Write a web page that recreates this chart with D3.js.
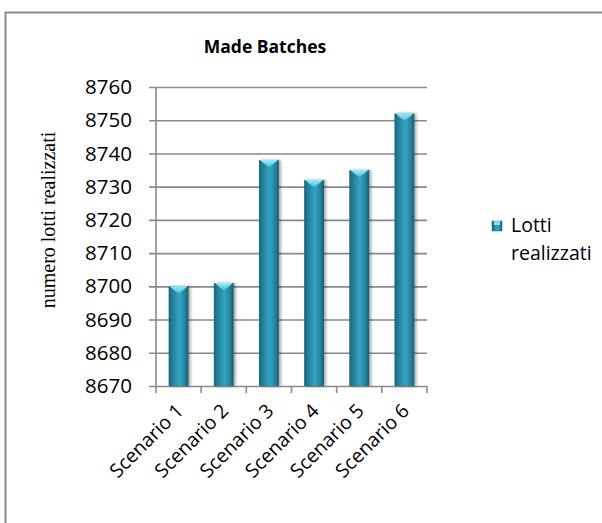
<!DOCTYPE html>
<html>
<head>
<meta charset="utf-8">
<script src="https://cdn.jsdelivr.net/npm/d3@7"></script>
<style>
  html, body { margin: 0; padding: 0; background: #fff; }
  svg { display: block; }
</style>
</head>
<body>
<svg id="chart" width="602" height="523"></svg>
<script>
// Made batches per scenario
const categories = ["Scenario 1", "Scenario 2", "Scenario 3", "Scenario 4", "Scenario 5", "Scenario 6"];
const lotti = [8700, 8701, 8738, 8732, 8735, 8752];
const yTicks = [8670, 8680, 8690, 8700, 8710, 8720, 8730, 8740, 8750, 8760];
const seriesName = ["Lotti", "realizzati"];
const chartTitle = "Made Batches";
const yTitle = "numero lotti realizzati";

const svg = d3.select("#chart");
const labelFont = "'Open Sans', 'Noto Sans', sans-serif";

// chart frame (extends past the right and bottom edges)
svg.append("rect")
  .attr("x", 5.5).attr("y", 12.5)
  .attr("width", 700).attr("height", 600)
  .attr("fill", "#fff")
  .attr("stroke", "#8c8c8c").attr("stroke-width", 2);

const plot = { left: 156, right: 427, top: 87, bottom: 386 };

const x = d3.scaleBand()
  .domain(categories)
  .range([plot.left, plot.right])
  .paddingInner(0.56).paddingOuter(0.28);

const y = d3.scaleLinear()
  .domain([8670, 8760])
  .range([plot.bottom, plot.top]);

// gradient for the cylinder-like bars
const defs = svg.append("defs");
const grad = defs.append("linearGradient").attr("id", "barGrad")
  .attr("x1", "0%").attr("x2", "100%").attr("y1", "0%").attr("y2", "0%");
grad.append("stop").attr("offset", "0%").attr("stop-color", "#1b6579");
grad.append("stop").attr("offset", "30%").attr("stop-color", "#2a8ca8");
grad.append("stop").attr("offset", "55%").attr("stop-color", "#34a3c2");
grad.append("stop").attr("offset", "80%").attr("stop-color", "#2586a1");
grad.append("stop").attr("offset", "100%").attr("stop-color", "#185d70");

const capGrad = defs.append("linearGradient").attr("id", "capGrad")
  .attr("x1", "0%").attr("x2", "0%").attr("y1", "0%").attr("y2", "100%");
capGrad.append("stop").attr("offset", "0%").attr("stop-color", "#9ceaf8");
capGrad.append("stop").attr("offset", "100%").attr("stop-color", "#48c3df");

const shadow = defs.append("filter").attr("id", "shadow")
  .attr("x", "-30%").attr("y", "-10%").attr("width", "160%").attr("height", "120%");
shadow.append("feGaussianBlur").attr("in", "SourceAlpha").attr("stdDeviation", 1.6);
shadow.append("feOffset").attr("dx", 1.5).attr("dy", 0).attr("result", "b");
shadow.append("feComponentTransfer").append("feFuncA").attr("type", "linear").attr("slope", 0.35);
const merge = shadow.append("feMerge");
merge.append("feMergeNode");
merge.append("feMergeNode").attr("in", "SourceGraphic");

// horizontal gridlines and value labels
const yAxis = d3.axisLeft(y).tickValues(yTicks).tickSize(plot.right - plot.left + 7).tickPadding(17)
  .tickFormat(d3.format("d"));
const gy = svg.append("g")
  .attr("transform", `translate(${plot.right},0)`)
  .call(yAxis);
gy.select(".domain").remove();
gy.selectAll(".tick line").attr("stroke", "#8a8a8a").attr("stroke-width", 1.6);
gy.selectAll(".tick text")
  .attr("font-family", labelFont).attr("font-size", 20.5).attr("fill", "#000");

// vertical axis line
svg.append("line")
  .attr("x1", plot.left).attr("x2", plot.left)
  .attr("y1", plot.top).attr("y2", plot.bottom)
  .attr("stroke", "#8a8a8a").attr("stroke-width", 1.6);

// category tick marks at band boundaries
const boundaries = d3.range(categories.length + 1).map(i => plot.left + i * (plot.right - plot.left) / categories.length);
svg.append("g").selectAll("line").data(boundaries).join("line")
  .attr("x1", d => d).attr("x2", d => d)
  .attr("y1", plot.bottom).attr("y2", plot.bottom + 7)
  .attr("stroke", "#8a8a8a").attr("stroke-width", 1.6);

// bars
const bars = svg.append("g").selectAll("g").data(lotti).join("g")
  .attr("filter", "url(#shadow)");
bars.append("rect")
  .attr("x", (d, i) => x(categories[i]))
  .attr("y", d => y(d))
  .attr("width", x.bandwidth())
  .attr("height", d => y(8670) - y(d))
  .attr("fill", "url(#barGrad)");
bars.append("path")
  .attr("d", (d, i) => {
    const x0 = x(categories[i]), w = x.bandwidth(), t = y(d);
    return `M${x0 + 1},${t} L${x0 + w - 1},${t} L${x0 + w * 0.72},${t + 4} L${x0 + w / 2},${t + 7} L${x0 + w * 0.28},${t + 4} Z`;
  })
  .attr("fill", "url(#capGrad)");

// category labels, rotated
svg.append("g").selectAll("text").data(categories).join("text")
  .attr("transform", d => `translate(${x(d) + x.bandwidth() / 2 + 6},${plot.bottom + 26}) rotate(-45)`)
  .attr("text-anchor", "end")
  .attr("font-family", labelFont).attr("font-size", 19.5)
  .attr("fill", "#000")
  .text(d => d);

// title
svg.append("text")
  .attr("x", 265).attr("y", 53)
  .attr("text-anchor", "middle")
  .attr("font-family", labelFont).attr("font-weight", "bold").attr("font-size", 17.5)
  .attr("fill", "#000")
  .text(chartTitle);

// y axis title
svg.append("text")
  .attr("transform", "translate(50,220) rotate(-90)")
  .attr("text-anchor", "middle")
  .attr("dominant-baseline", "middle")
  .attr("font-family", "'Liberation Serif', 'DejaVu Serif', serif")
  .attr("font-size", 20)
  .attr("fill", "#000")
  .text(yTitle);

// legend
const legend = svg.append("g");
legend.append("rect")
  .attr("x", 492).attr("y", 221).attr("width", 10).attr("height", 10)
  .attr("fill", "url(#barGrad)").attr("stroke", "#1f6f86").attr("stroke-width", 0.5);
legend.append("rect")
  .attr("x", 494).attr("y", 221).attr("width", 6).attr("height", 4)
  .attr("fill", "#7fdff2");
legend.selectAll("text.lab").data(seriesName).join("text")
  .attr("class", "lab")
  .attr("x", 511).attr("y", (d, i) => 232 + i * 28)
  .attr("font-family", labelFont).attr("font-size", 19.5)
  .attr("fill", "#000")
  .text(d => d);
</script>
</body>
</html>
